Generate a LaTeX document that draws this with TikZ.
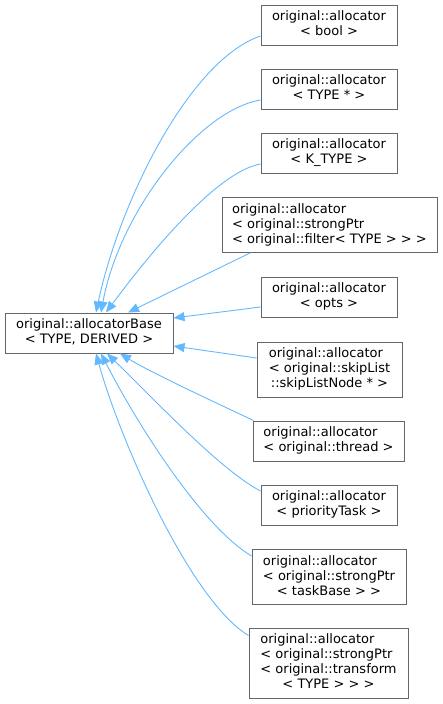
\documentclass[tikz,border=0pt]{standalone}
\usepackage{fontspec}
\setmainfont{DejaVu Sans}
\usetikzlibrary{arrows.meta}
\definecolor{edgec}{HTML}{63B8FF}
\definecolor{boxc}{HTML}{666666}
\tikzset{
  box/.style={draw=boxc, line width=1pt, fill=white, inner sep=0pt,
    font=\fontsize{13}{15}\selectfont},
  inh/.style={draw=edgec, line width=0.9pt,
    -{Triangle[length=11pt,width=9pt,fill=edgec]}},
}
\newcommand\cenlines[1]{\begin{tabular}{@{}c@{}}#1\end{tabular}}
\newcommand\leflines[1]{\begin{tabular}{@{}l@{}}#1\end{tabular}}
\begin{document}
\begin{tikzpicture}[x=1pt,y=-1pt]
\useasboundingbox (0,0) rectangle (443,704);
\node[box, minimum width=168pt, minimum height=40pt] (base) at (89,333) {\cenlines{original::allocatorBase\\< TYPE, DERIVED >}};
\node[box, minimum width=136pt, minimum height=40pt] (bool) at (329,25) {\cenlines{original::allocator\\< bool >}};
\node[box, minimum width=136pt, minimum height=40pt] (typeptr) at (329,89) {\cenlines{original::allocator\\< TYPE * >}};
\node[box, minimum width=136pt, minimum height=40pt] (ktype) at (329,153) {\cenlines{original::allocator\\< K\_TYPE >}};
\node[box, minimum width=215pt, minimum height=55pt] (filter) at (329.5,225) {\leflines{original::allocator\\< original::strongPtr\\< original::filter< TYPE > > >}};
\node[box, minimum width=136pt, minimum height=40pt] (opts) at (329,297) {\cenlines{original::allocator\\< opts >}};
\node[box, minimum width=145pt, minimum height=55pt] (skip) at (329.5,369.5) {\leflines{original::allocator\\< original::skipList\\\multicolumn{1}{@{}c@{}}{::skipListNode * >}}};
\node[box, minimum width=151pt, minimum height=40pt] (thread) at (328.5,441) {\leflines{original::allocator\\< original::thread >}};
\node[box, minimum width=136pt, minimum height=40pt] (prio) at (329,505) {\cenlines{original::allocator\\< priorityTask >}};
\node[box, minimum width=154pt, minimum height=55pt] (task) at (329,577) {\leflines{original::allocator\\< original::strongPtr\\\multicolumn{1}{@{}c@{}}{< taskBase > >}}};
\node[box, minimum width=159pt, minimum height=70pt] (trans) at (328.5,663) {\leflines{original::allocator\\< original::strongPtr\\< original::transform\\\multicolumn{1}{@{}c@{}}{< TYPE > > >}}};

\draw[inh] ([yshift=-11pt]bool.west) .. controls (190,60) and (120,200) .. ([xshift=7pt]base.north);
\draw[inh] ([yshift=-11pt]typeptr.west) .. controls (200,110) and (120,210) .. ([xshift=12pt]base.north);
\draw[inh] ([yshift=-11pt]ktype.west) .. controls (215,172) and (145,260) .. ([xshift=17pt]base.north);
\draw[inh] ([xshift=-79.5pt]filter.south) -- ([xshift=39pt]base.north);
\draw[inh] ([yshift=-10pt]opts.west) -- ([yshift=15pt]base.east);
\draw[inh] ([yshift=11.5pt]skip.west) -- ([yshift=-13pt]base.east);
\draw[inh] ([xshift=1pt]thread.north west) .. controls (210,400) and (150,372) .. ([xshift=31pt]base.south);
\draw[inh] ([yshift=14pt]prio.west) .. controls (220,470) and (150,395) .. ([xshift=18pt]base.south);
\draw[inh] ([yshift=-7pt]task.north west) .. controls (200,525) and (135,420) .. ([xshift=12pt]base.south);
\draw[inh] ([yshift=-8pt]trans.north west) .. controls (190,600) and (120,440) .. ([xshift=7pt]base.south);
\end{tikzpicture}
\end{document}
